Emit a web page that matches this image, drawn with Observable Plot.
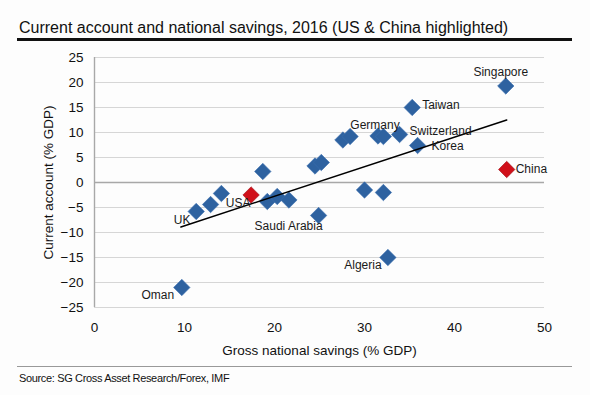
<!DOCTYPE html>
<html>
<head>
<meta charset="utf-8">
<script src="https://cdn.jsdelivr.net/npm/d3@7"></script>
<script src="https://cdn.jsdelivr.net/npm/@observablehq/plot@0.6"></script>
<style>
  html, body { margin: 0; padding: 0; background: #fdfdfd; }
  #wrap { position: relative; width: 590px; height: 395px; overflow: hidden; font-family: "Liberation Sans", Arial, sans-serif; }
  #chart { position: absolute; left: 0; top: 0; }
  #title { position: absolute; left: 19px; top: 20px; font-size: 16px; line-height: 16px; color: #111; white-space: nowrap; }
  #topline { position: absolute; left: 17px; top: 38px; width: 555px; height: 2.5px; background: #111; }
  #bottomline { position: absolute; left: 17px; top: 366px; width: 555px; height: 1px; background: #999; }
  #source { position: absolute; left: 19px; top: 373px; font-size: 11px; line-height: 11px; letter-spacing: -0.35px; color: #111; white-space: nowrap; }
</style>
</head>
<body>
<div id="wrap">
  <div id="chart"></div>
  <div id="title">Current account and national savings, 2016 (US &amp; China highlighted)</div>
  <div id="topline"></div>
  <div id="bottomline"></div>
  <div id="source">Source: SG Cross Asset Research/Forex, IMF</div>
</div>
<script>
// Data
const names = ["Oman","UK","","","USA","","","","","","","Saudi Arabia","","","","Germany","","","Algeria","Switzerland","Taiwan","Korea","Singapore","China"];
const savings = [9.7,11.3,12.9,14.1,17.4,18.7,19.2,20.3,21.6,24.5,25.2,24.9,27.6,28.4,30.0,31.5,32.1,32.1,32.6,33.9,35.3,35.9,45.7,45.8];
const currentAccount = [-21.0,-5.8,-4.4,-2.2,-2.5,2.2,-3.8,-2.8,-3.5,3.3,4.0,-6.6,8.5,9.2,-1.5,9.3,9.2,-2.0,-15.0,9.6,15.0,7.4,19.3,2.6];
const highlighted = ["USA","China"];
const trendX = [9.6, 45.8];
const trendY = [-8.9, 12.5];
const xTicks = [0,10,20,30,40,50];
const yTicks = [-25,-20,-15,-10,-5,0,5,10,15,20,25];

const data = names.map((n, i) => ({name: n, x: savings[i], y: currentAccount[i], hi: highlighted.includes(n)}));
const trend = trendX.map((x, i) => ({x, y: trendY[i]}));

// label placement (styling)
const labelPos = {
  "Singapore": {anchor: "middle", dx: -5, dy: -14},
  "Taiwan": {anchor: "start", dx: 10, dy: -2},
  "Germany": {anchor: "middle", dx: -3, dy: -11},
  "Switzerland": {anchor: "start", dx: 10, dy: -3},
  "Korea": {anchor: "start", dx: 14, dy: 1},
  "China": {anchor: "start", dx: 9, dy: 0},
  "USA": {anchor: "middle", dx: -13, dy: 8},
  "UK": {anchor: "middle", dx: -14, dy: 9},
  "Saudi Arabia": {anchor: "middle", dx: -30, dy: 11},
  "Algeria": {anchor: "middle", dx: -25, dy: 8},
  "Oman": {anchor: "middle", dx: -24, dy: 8}
};
const labelMarks = Object.entries(labelPos).map(([n, p]) =>
  Plot.text(data.filter(d => d.name === n), {
    x: "x", y: "y", text: "name", textAnchor: p.anchor, dx: p.dx, dy: p.dy,
    fontSize: 12, fill: "#1a1a1a"
  })
);

const chart = Plot.plot({
  width: 590,
  height: 395,
  marginTop: 57,
  marginLeft: 94,
  marginRight: 46,
  marginBottom: 88,
  x: {domain: [0, 50]},
  y: {domain: [-25, 25]},
  style: {fontFamily: "'Liberation Sans', Arial, sans-serif", background: "transparent", color: "#111", overflow: "visible"},
  marks: [
    Plot.gridY(yTicks, {stroke: "#d6d6d6", strokeOpacity: 1, strokeWidth: 1}),
    Plot.ruleY([0], {stroke: "#a8a8a8", strokeWidth: 1.4}),
    Plot.ruleX([0], {stroke: "#a8a8a8", strokeWidth: 1.4}),
    Plot.axisY(yTicks, {tickSize: 0, tickPadding: 11, fontSize: 13.5, label: "Current account (% GDP)", labelAnchor: "center", labelArrow: "none", labelOffset: 51}),
    Plot.axisX(xTicks, {tickSize: 0, tickPadding: 15, fontSize: 13.5, label: "Gross national savings (% GDP)", labelAnchor: "center", labelArrow: "none", labelOffset: 47}),
    Plot.dot(data, {x: "x", y: "y", symbol: "diamond2", r: 7.4, fill: d => d.hi ? "#d0101a" : "#2e62a0", stroke: d => d.hi ? "#a0101a" : "#3a6fae", strokeWidth: 0.6}),
    Plot.line(trend, {x: "x", y: "y", stroke: "#000", strokeWidth: 1.5}),
    ...labelMarks
  ]
});
document.getElementById("chart").appendChild(chart);
</script>
</body>
</html>
